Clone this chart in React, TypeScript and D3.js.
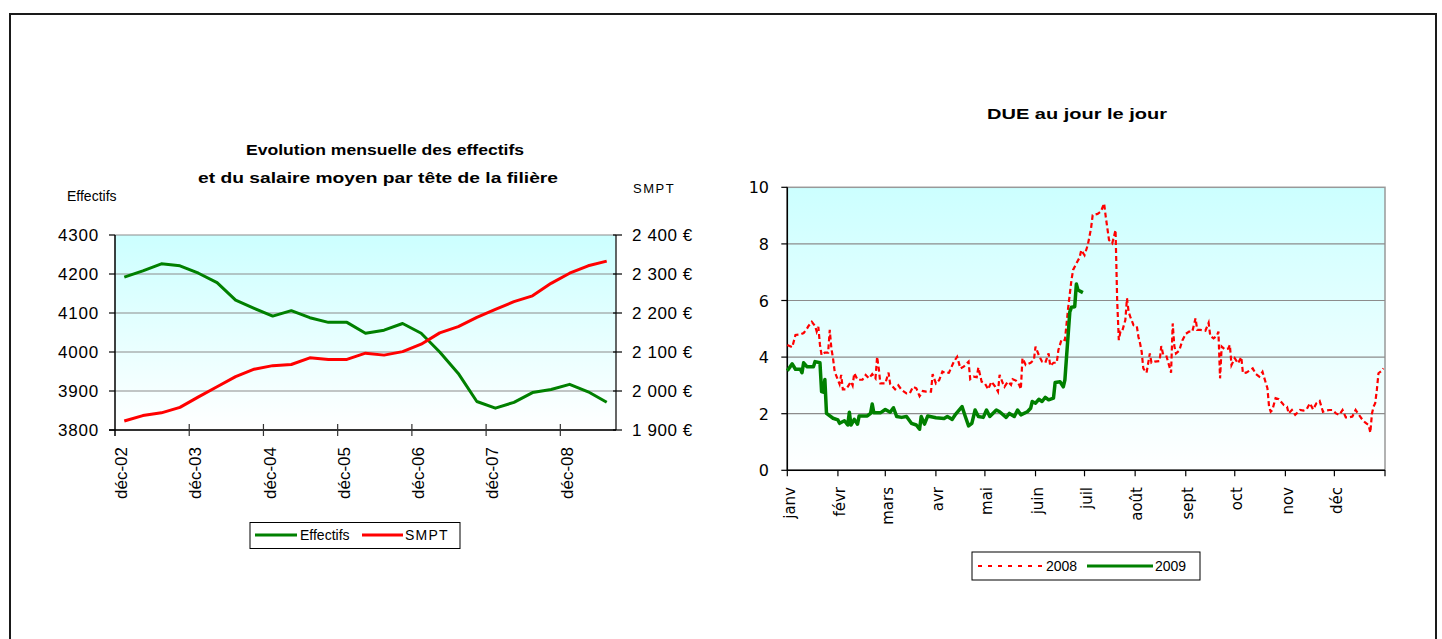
import React from "react";
import * as d3 from "d3";

// ---------- Left chart data ----------
const categories = [
  "déc-02", "mars-03", "juin-03", "sept-03", "déc-03", "mars-04", "juin-04", "sept-04",
  "déc-04", "mars-05", "juin-05", "sept-05", "déc-05", "mars-06", "juin-06", "sept-06",
  "déc-06", "mars-07", "juin-07", "sept-07", "déc-07", "mars-08", "juin-08", "sept-08",
  "déc-08", "mars-09", "juin-09",
];
const effectifs = [
  4192, 4208, 4226, 4221, 4202, 4178, 4133, 4112, 4092, 4106, 4088, 4076, 4076, 4048,
  4056, 4073, 4048, 4000, 3945, 3873, 3856, 3871, 3896, 3904, 3917, 3898, 3871,
];
const smpt = [
  1923, 1937, 1944, 1958, 1985, 2011, 2037, 2056, 2065, 2068, 2085, 2081, 2081, 2097,
  2092, 2101, 2120, 2149, 2165, 2189, 2209, 2229, 2244, 2276, 2302, 2321, 2333,
];
const leftTicks = [3800, 3900, 4000, 4100, 4200, 4300];
const rightTicks = [1900, 2000, 2100, 2200, 2300, 2400];
const shownCategoryLabels = ["déc-02", "déc-03", "déc-04", "déc-05", "déc-06", "déc-07", "déc-08"];

// ---------- Right chart data (day of year, value) ----------
const due2008: [number, number][] = [
  [0, 4.43], [3, 4.35], [5, 4.78], [8, 4.8], [10, 4.85], [12, 5.0], [13, 5.1], [15, 5.25],
  [17, 5.1], [18, 4.9], [19, 5.07], [20, 4.43], [21, 4.07], [23, 4.16], [25, 4.16], [26, 4.96],
  [27, 4.3], [28, 3.96], [29, 3.49], [31, 3.19], [32, 3.05], [33, 3.37], [34, 2.86], [36, 2.86],
  [39, 3.13], [40, 3.0], [41, 3.43], [43, 3.2], [46, 3.2], [48, 3.37], [50, 3.25], [52, 3.4],
  [54, 3.25], [55, 4.01], [56, 3.6], [57, 3.07], [60, 3.07], [62, 3.45], [63, 3.05], [66, 2.86],
  [68, 3.0], [70, 2.84], [73, 2.72], [75, 2.72], [77, 2.95], [79, 2.9], [81, 2.62], [83, 2.8],
  [85, 2.78], [88, 2.78], [89, 3.4], [91, 3.07], [93, 3.19], [95, 3.49], [97, 3.43], [99, 3.45],
  [102, 3.84], [104, 4.01], [106, 3.6], [108, 3.66], [109, 3.72], [111, 3.84], [112, 3.22],
  [114, 3.31], [116, 3.29], [117, 3.63], [119, 3.13], [121, 3.07], [123, 2.86], [125, 3.13],
  [127, 2.98], [129, 2.78], [130, 3.37], [132, 3.07], [133, 2.95], [135, 3.13], [137, 3.02],
  [138, 3.22], [140, 3.17], [142, 3.02], [143, 2.86], [144, 3.96], [146, 3.72], [149, 3.8],
  [151, 3.9], [152, 4.37], [154, 4.07], [156, 3.84], [158, 3.8], [160, 4.13], [161, 3.69],
  [163, 3.8], [165, 3.8], [166, 4.25], [168, 4.63], [170, 4.6], [172, 5.75], [174, 6.72],
  [175, 7.08], [177, 7.31], [179, 7.52], [180, 7.78], [182, 7.6], [184, 7.96], [186, 8.55],
  [187, 9.02], [190, 9.06], [192, 9.14], [194, 9.43], [195, 8.96], [196, 8.55], [197, 8.14],
  [199, 8.02], [201, 8.49], [202, 6.0], [203, 4.6], [204, 4.9], [205, 4.9], [207, 5.31],
  [208, 6.08], [209, 5.6], [210, 5.43], [212, 5.13], [214, 5.1], [215, 4.72], [216, 4.49],
  [217, 4.19], [218, 3.6], [220, 3.45], [222, 4.13], [223, 3.8], [225, 3.84], [228, 3.86],
  [229, 4.39], [230, 4.13], [232, 4.07], [234, 3.66], [235, 3.45], [236, 5.19], [237, 4.39],
  [238, 4.13], [240, 4.23], [242, 4.6], [244, 4.82], [246, 4.9], [248, 4.9], [250, 5.37],
  [251, 4.96], [253, 4.96], [256, 4.93], [258, 5.21], [259, 4.75], [261, 4.66], [263, 4.75],
  [264, 4.9], [265, 3.25], [266, 4.37], [268, 4.27], [270, 4.3], [271, 4.43], [272, 3.72],
  [274, 3.96], [276, 3.78], [278, 4.0], [279, 3.43], [281, 3.45], [283, 3.52], [285, 3.6],
  [287, 3.4], [289, 3.31], [291, 3.48], [292, 3.28], [294, 2.9], [295, 2.25], [296, 2.07],
  [297, 2.13], [299, 2.55], [301, 2.51], [304, 2.31], [306, 2.25], [307, 2.01], [309, 2.13],
  [311, 1.96], [314, 2.13], [316, 2.11], [318, 2.15], [320, 2.37], [322, 2.15], [324, 2.37],
  [326, 2.45], [328, 2.07], [330, 2.11], [332, 2.13], [334, 2.13], [336, 2.01], [338, 1.96],
  [340, 2.13], [342, 1.87], [344, 1.87], [346, 1.9], [348, 2.13], [350, 1.96], [352, 1.8],
  [354, 1.68], [356, 1.6], [357, 1.33], [358, 2.0], [359, 2.25], [360, 2.37], [361, 2.84],
  [362, 3.43], [364, 3.52], [365, 3.6],
];
const due2009: [number, number][] = [
  [0, 3.52], [3, 3.76], [5, 3.57], [8, 3.57], [9, 3.45], [10, 3.8], [12, 3.66], [16, 3.66],
  [17, 3.84], [20, 3.8], [21, 2.78], [22, 2.76], [23, 3.21], [24, 2.01], [28, 1.84], [31, 1.78],
  [32, 1.66], [35, 1.75], [37, 1.6], [38, 2.05], [39, 1.6], [41, 1.8], [43, 1.63], [44, 1.92],
  [49, 1.92], [51, 2.01], [52, 2.34], [53, 2.03], [57, 2.03], [60, 2.15], [63, 2.05], [65, 2.21],
  [67, 1.9], [70, 1.87], [73, 1.9], [76, 1.66], [79, 1.6], [81, 1.45], [82, 1.9], [84, 1.63],
  [86, 1.92], [91, 1.86], [96, 1.83], [98, 1.9], [101, 1.8], [103, 1.98], [107, 2.25], [109, 1.9],
  [111, 1.57], [113, 1.66], [115, 2.13], [117, 1.9], [120, 1.87], [122, 2.13], [124, 1.9],
  [128, 2.13], [130, 2.07], [134, 1.87], [136, 2.01], [139, 1.9], [141, 2.13], [143, 1.96],
  [147, 2.07], [149, 2.19], [150, 2.43], [152, 2.37], [154, 2.51], [156, 2.43], [158, 2.58],
  [160, 2.49], [163, 2.55], [164, 3.1], [167, 3.13], [169, 2.95], [170, 3.2], [171, 4.02],
  [173, 5.6], [174, 5.76], [176, 5.78], [177, 6.58], [178, 6.37], [181, 6.28],
];
const dueTicks = [0, 2, 4, 6, 8, 10];
const monthStarts = [0, 31, 60, 91, 121, 152, 182, 213, 244, 274, 305, 335, 366];
const monthLabels = ["janv", "févr", "mars", "avr", "mai", "juin", "juil", "août", "sept", "oct", "nov", "déc"];

const ARIAL = "'Liberation Sans', Arial, sans-serif";
const DEJA = "'DejaVu Sans', Verdana, sans-serif";

export default function App() {
  // left chart scales
  const L = { x0: 115, x1: 616, y0: 235, y1: 430 };
  const xBand = d3.scaleBand<string>().domain(categories).range([L.x0, L.x1]).padding(0);
  const yLeft = d3.scaleLinear().domain([3800, 4300]).range([L.y1, L.y0]);
  const yRight = d3.scaleLinear().domain([1900, 2400]).range([L.y1, L.y0]);
  const cx = (c: string) => (xBand(c) as number) + xBand.bandwidth() / 2;
  const lineEff = d3.line<number>().x((_, i) => cx(categories[i])).y((v) => yLeft(v));
  const lineSmpt = d3.line<number>().x((_, i) => cx(categories[i])).y((v) => yRight(v));
  const fr = d3.formatLocale({ decimal: ",", thousands: " ", grouping: [3], currency: ["", " €"] });
  const fmtEuro = fr.format("$,");

  // right chart scales
  const R = { x0: 787.3, x1: 1385, y0: 187.3, y1: 470.3 };
  const xDay = d3.scaleLinear().domain([0, 366]).range([R.x0, R.x1]);
  const yDue = d3.scaleLinear().domain([0, 10]).range([R.y1, R.y0]);
  const lineDue = d3.line<[number, number]>().x((d) => xDay(d[0])).y((d) => yDue(d[1]));

  const tickBoundaries = categories.map((_, i) => i).filter((i) => i % 4 === 0 && i > 0);

  return (
    <svg width={1442} height={639} style={{ position: "absolute", left: 0, top: 0, display: "block" }}>
      <defs>
        <linearGradient id="bg" x1="0" y1="0" x2="0" y2="1">
          <stop offset="0" stopColor="#ccffff" />
          <stop offset="1" stopColor="#ffffff" />
        </linearGradient>
      </defs>
      <rect x={0} y={0} width={1442} height={639} fill="#fff" />
      <rect x={10} y={14} width={1426} height={700} fill="none" stroke="#1a1a1a" strokeWidth={2} />

      {/* ===== LEFT CHART ===== */}
      <text x={385} y={155} textAnchor="middle" fontFamily={ARIAL} fontWeight="bold" fontSize={15} textLength={278} lengthAdjust="spacingAndGlyphs">
        Evolution mensuelle des effectifs
      </text>
      <text x={378} y={183} textAnchor="middle" fontFamily={ARIAL} fontWeight="bold" fontSize={15} textLength={360} lengthAdjust="spacingAndGlyphs">
        et du salaire moyen par tête de la filière
      </text>
      <text x={67} y={201} fontFamily={ARIAL} fontSize={14}>Effectifs</text>
      <text x={633} y={193} fontFamily={ARIAL} fontSize={13} letterSpacing={1.5}>SMPT</text>

      <rect x={L.x0} y={L.y0} width={L.x1 - L.x0} height={L.y1 - L.y0} fill="url(#bg)" />
      {leftTicks.map((t) => (
        <line key={"g" + t} x1={L.x0} x2={L.x1} y1={yLeft(t)} y2={yLeft(t)} stroke="#8c8c8c" strokeWidth={1.2} />
      ))}
      {/* axes */}
      <line x1={L.x0} x2={L.x0} y1={L.y0} y2={L.y1 + 6} stroke="#000" strokeWidth={1.5} />
      <line x1={L.x1} x2={L.x1} y1={L.y0} y2={L.y1} stroke="#333" strokeWidth={1.5} />
      <line x1={L.x0 - 6} x2={L.x1} y1={L.y1} y2={L.y1} stroke="#000" strokeWidth={1.5} />
      {leftTicks.map((t) => (
        <g key={"lt" + t}>
          <line x1={L.x0 - 6} x2={L.x0} y1={yLeft(t)} y2={yLeft(t)} stroke="#000" strokeWidth={1.2} />
          <text x={99} y={yLeft(t) + 6} textAnchor="end" fontFamily={ARIAL} fontSize={17} letterSpacing={0.8}>{t}</text>
        </g>
      ))}
      {rightTicks.map((t) => (
        <g key={"rt" + t}>
          <line x1={L.x1 - 3} x2={L.x1 + 6} y1={yRight(t)} y2={yRight(t)} stroke="#000" strokeWidth={1.2} />
          <text x={632} y={yRight(t) + 6} fontFamily={ARIAL} fontSize={17} letterSpacing={0.6}>{fmtEuro(t)}</text>
        </g>
      ))}
      {tickBoundaries.map((i) => (
        <line key={"xt" + i} x1={xBand(categories[i]) as number} x2={xBand(categories[i]) as number} y1={L.y1 - 6} y2={L.y1 + 6} stroke="#333" strokeWidth={1.2} />
      ))}
      {shownCategoryLabels.map((c) => (
        <text key={c} transform={`translate(${cx(c) - 3},447) rotate(-90)`} dy="0.35em" textAnchor="end" fontFamily={ARIAL} fontSize={17}>
          {c}
        </text>
      ))}
      <path d={lineEff(effectifs) || ""} fill="none" stroke="#008000" strokeWidth={3} strokeLinejoin="round" />
      <path d={lineSmpt(smpt) || ""} fill="none" stroke="#ff0000" strokeWidth={3} strokeLinejoin="round" />

      {/* left legend */}
      <rect x={250} y={522.5} width={210} height={26} fill="#fff" stroke="#000" strokeWidth={1} />
      <line x1={255} x2={297} y1={535} y2={535} stroke="#008000" strokeWidth={3} />
      <text x={300} y={540} fontFamily={ARIAL} fontSize={14}>Effectifs</text>
      <line x1={362} x2={403} y1={535} y2={535} stroke="#ff0000" strokeWidth={3} />
      <text x={405} y={540} fontFamily={ARIAL} fontSize={14} letterSpacing={1.2}>SMPT</text>

      {/* ===== RIGHT CHART ===== */}
      <text x={1077} y={119} textAnchor="middle" fontFamily={ARIAL} fontWeight="bold" fontSize={15} textLength={180} lengthAdjust="spacingAndGlyphs">
        DUE au jour le jour
      </text>
      <rect x={R.x0} y={R.y0} width={R.x1 - R.x0} height={R.y1 - R.y0} fill="url(#bg)" stroke="#999" strokeWidth={1.5} />
      {dueTicks.filter((t) => t > 0 && t < 10).map((t) => (
        <line key={"dg" + t} x1={R.x0} x2={R.x1} y1={yDue(t)} y2={yDue(t)} stroke="#8c8c8c" strokeWidth={1.2} />
      ))}
      <line x1={R.x0} x2={R.x0} y1={R.y0} y2={R.y1} stroke="#000" strokeWidth={1.5} />
      <line x1={R.x0} x2={R.x1} y1={R.y1} y2={R.y1} stroke="#000" strokeWidth={1.5} />
      {dueTicks.map((t) => (
        <g key={"dt" + t}>
          <line x1={R.x0 - 6} x2={R.x0} y1={yDue(t)} y2={yDue(t)} stroke="#000" strokeWidth={1.2} />
          <text x={769} y={yDue(t) + 6} textAnchor="end" fontFamily={DEJA} fontSize={16}>{t}</text>
        </g>
      ))}
      {monthStarts.map((m) => (
        <line key={"mt" + m} x1={xDay(m)} x2={xDay(m)} y1={R.y1} y2={R.y1 + 6} stroke="#000" strokeWidth={1.2} />
      ))}
      {monthLabels.map((lab, i) => (
        <text key={lab} transform={`translate(${xDay(monthStarts[i]) + 2},487) rotate(-90)`} dy="0.35em" textAnchor="end" fontFamily={DEJA} fontSize={15}>
          {lab}
        </text>
      ))}
      <path d={lineDue(due2008) || ""} fill="none" stroke="#ff0000" strokeWidth={2.2} strokeDasharray="5,3" />
      <path d={lineDue(due2009) || ""} fill="none" stroke="#008000" strokeWidth={3.5} strokeLinejoin="round" />

      {/* right legend */}
      <rect x={972} y={552} width={228} height={28} fill="#fff" stroke="#000" strokeWidth={1} />
      <line x1={978} x2={1043} y1={566} y2={566} stroke="#ff0000" strokeWidth={2} strokeDasharray="4,6" />
      <text x={1046} y={571} fontFamily={ARIAL} fontSize={14}>2008</text>
      <line x1={1087} x2={1153} y1={566} y2={566} stroke="#008000" strokeWidth={3} />
      <text x={1155} y={571} fontFamily={ARIAL} fontSize={14}>2009</text>
    </svg>
  );
}
